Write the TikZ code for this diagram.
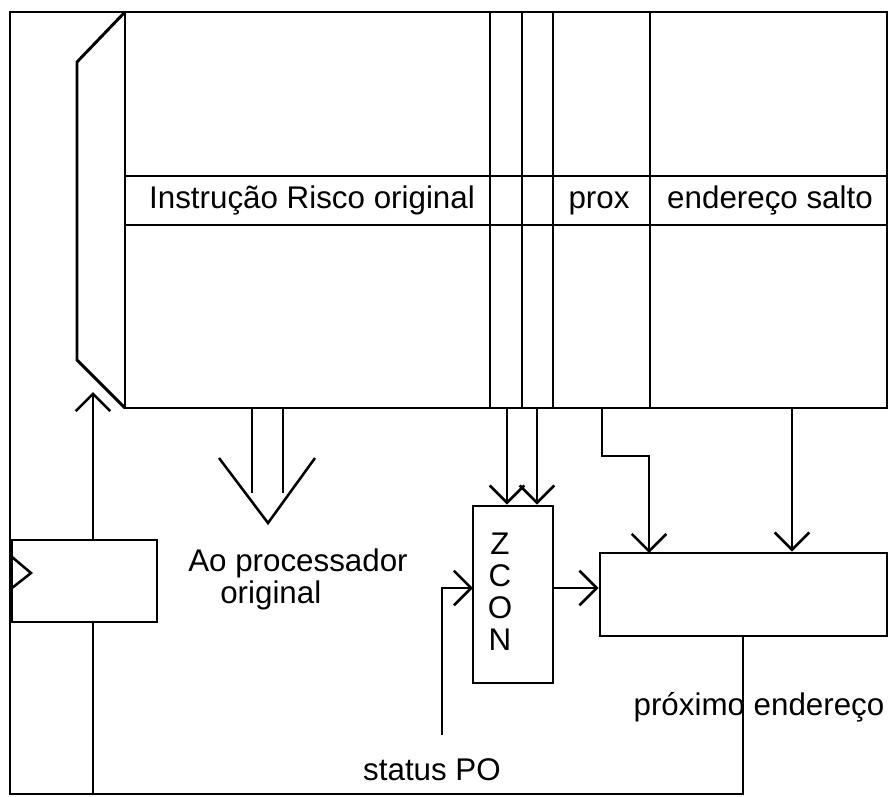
\documentclass[tikz,border=0pt]{standalone}
\usepackage{fontspec}
\setmainfont{Liberation Sans}
\usetikzlibrary{arrows.meta,fit,calc}

\begin{document}
\begin{tikzpicture}[
  x=0.75pt, y=-0.75pt,
  font=\fontsize{23.5}{24}\selectfont,
  box/.style={draw, line width=2.2pt, inner sep=0pt},
  wire/.style={line width=1.9pt},
  arr/.style={wire, -{Straight Barb[length=13pt,width=26pt]}},
  lbl/.style={anchor=base, inner sep=0pt}
]
\useasboundingbox (0,0) rectangle (895,796);

% microprogram ROM with its fields
\node[box, fit={(125,12) (887,408)}] (rom) {};
\draw[box] (125,176) -- (887,176);
\draw[box] (125,225) -- (887,225);
\foreach \x in {490,522,553,650}
  \draw[box] (\x,12) -- (\x,408);
\node[lbl] (tinstr) at (312,208) {Instrução Risco original};
\node[lbl] (tprox) at (599,208) {prox};
\node[lbl] (tsalto) at (770,208) {endereço salto};

% address multiplexer in front of the ROM
\coordinate (mt) at (125,12);
\draw[box] (mt) -- (77,62) -- (77,360) -- (125,408);

% address register (clocked)
\node[box, fit={(12,540) (157,622)}] (reg) {};
\draw[wire] (12,557) -- (31,573) -- (12,588);
\coordinate (rx) at (93,0);
\draw[arr] (rx |- reg.north) -- (93,392);

% ZCON condition block and next-address block
\node[box, fit={(473,506) (553,683)}] (zcon) {};
\node[align=center, inner sep=0pt] (tzcon) at (500,592) {Z\\C\\O\\N};
\node[box, fit={(600,553) (887,636)}] (nxt) {};

% instruction field to the original processor
\draw[wire] (252,408) -- (252,493);
\draw[wire] (283,408) -- (283,493);
\draw[wire] (219,458) -- (268,523) -- (315,458);
\node[lbl, anchor=base west] (tproc) at (188,571) {Ao processador};
\node[lbl, anchor=base west] (torig) at (220,603) {original};

% condition bits into ZCON
\coordinate (zA) at (507,408);
\coordinate (zB) at (537,408);
\draw[arr] (zA) -- (zA |- zcon.north);
\draw[arr] (zB) -- (zB |- zcon.north);

% prox and endereco salto into next-address block
\coordinate (px) at (602,408);
\coordinate (pxin) at (649,553);
\draw[arr] (px) -- (602,456) -| (pxin);
\coordinate (sl) at (792,408);
\draw[arr] (sl) -- (sl |- nxt.north);

% ZCON selects next address
\coordinate (zo) at (553,588);
\draw[arr] (zo) -- (zo -| nxt.west);

% status from the original processor
\coordinate (st) at (442,735);
\coordinate (zi) at (473,588);
\draw[arr] (st) |- (zi);
\node[lbl] (tstatus) at (432,780) {status PO};

% next address fed back to register and multiplexer
\coordinate (pe) at (743,636);
\draw[wire] (pe) -- (743,794) -- (10,794) -- (10,12) -- (mt);
\draw[wire] (93,794) -- (rx |- reg.south);
\node[lbl] (tnext) at (759,715) {próximo endereço};
\end{tikzpicture}
\end{document}
